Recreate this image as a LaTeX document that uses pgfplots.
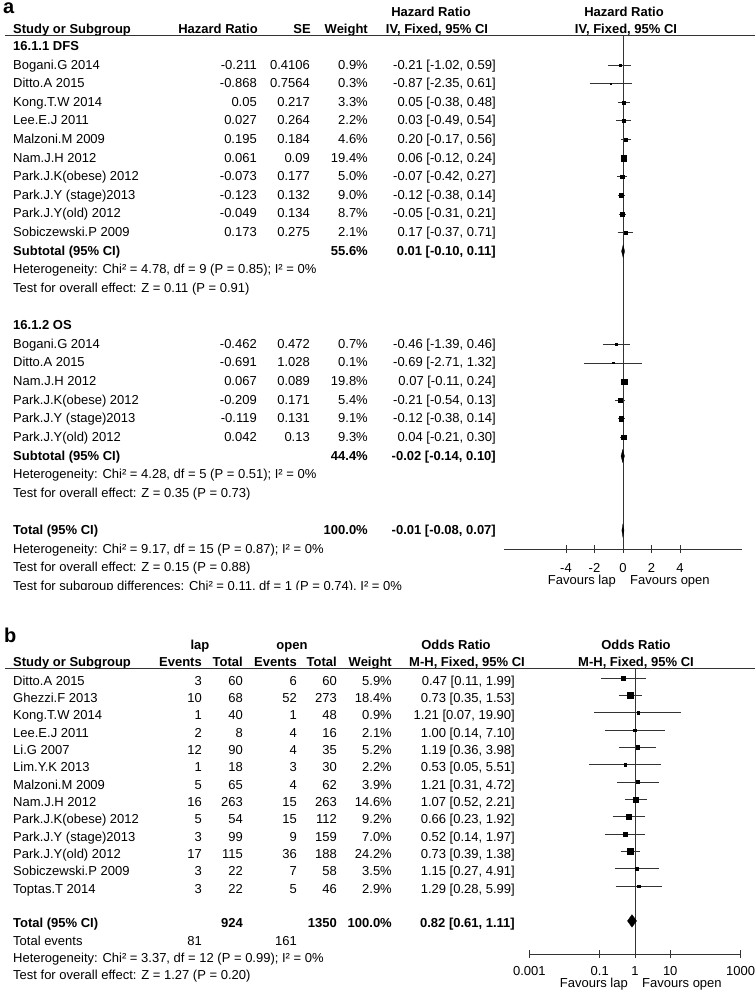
\documentclass[border=0pt]{standalone}
\usepackage{pgfplots}
\pgfplotsset{compat=1.18}
\usepackage{pgfplotstable}
\usepackage{fontspec}
\setmainfont{Liberation Sans}
\newcommand{\fs}{\fontsize{13}{15}\selectfont}

% ---------- panel a data (log hazard ratio scale) ----------
\pgfplotstableread{
r est lo hi w
1 -0.21 -1.02 0.59 0.9
2 -0.87 -2.35 0.61 0.3
3 0.05 -0.38 0.48 3.3
4 0.03 -0.49 0.54 2.2
5 0.20 -0.17 0.56 4.6
6 0.06 -0.12 0.24 19.4
7 -0.07 -0.42 0.27 5.0
8 -0.12 -0.38 0.14 9.0
9 -0.05 -0.31 0.21 8.7
10 0.17 -0.37 0.71 2.1
16 -0.46 -1.39 0.46 0.7
17 -0.69 -2.71 1.32 0.1
18 0.07 -0.11 0.24 19.8
19 -0.21 -0.54 0.13 5.4
20 -0.12 -0.38 0.14 9.1
21 0.04 -0.21 0.30 9.3
}\tabA
\pgfplotstableread{
x y
-1.02 1
0.59 1
nan nan
-2.35 2
0.61 2
nan nan
-0.38 3
0.48 3
nan nan
-0.49 4
0.54 4
nan nan
-0.17 5
0.56 5
nan nan
-0.12 6
0.24 6
nan nan
-0.42 7
0.27 7
nan nan
-0.38 8
0.14 8
nan nan
-0.31 9
0.21 9
nan nan
-0.37 10
0.71 10
nan nan
-1.39 16
0.46 16
nan nan
-2.71 17
1.32 17
nan nan
-0.11 18
0.24 18
nan nan
-0.54 19
0.13 19
nan nan
-0.38 20
0.14 20
nan nan
-0.21 21
0.30 21
}\segA

% ---------- panel b data (odds ratio) ----------
\pgfplotstableread{
r est w
0 0.47 5.9
1 0.73 18.4
2 1.21 0.9
3 1.00 2.1
4 1.19 5.2
5 0.53 2.2
6 1.21 3.9
7 1.07 14.6
8 0.66 9.2
9 0.52 7.0
10 0.73 24.2
11 1.15 3.5
12 1.29 2.9
}\tabB
\pgfplotstableread{
x y
0.11 0
1.99 0
nan nan
0.35 1
1.53 1
nan nan
0.07 2
19.90 2
nan nan
0.14 3
7.10 3
nan nan
0.36 4
3.98 4
nan nan
0.05 5
5.51 5
nan nan
0.31 6
4.72 6
nan nan
0.52 7
2.21 7
nan nan
0.23 8
1.92 8
nan nan
0.14 9
1.97 9
nan nan
0.39 10
1.38 10
nan nan
0.27 11
4.91 11
nan nan
0.28 12
5.99 12
}\segB

\newcommand{\TA}[4]{\node[anchor=#1] at (#2,{50.4+18.62*#3}) {#4};}
\newcommand{\TB}[4]{\node[anchor=#1] at (#2,{685+17.35*#3}) {#4};}
\newcommand{\SA}[6]{\TA{base west}{13}{#1}{#2}\TA{base east}{257}{#1}{#3}\TA{base east}{310}{#1}{#4}\TA{base east}{368}{#1}{#5}\TA{base east}{496}{#1}{#6}}
\newcommand{\SB}[8]{\TB{base west}{13}{#1}{#2}\TB{base east}{202}{#1}{#3}\TB{base east}{243}{#1}{#4}\TB{base east}{297}{#1}{#5}\TB{base east}{337}{#1}{#6}\TB{base east}{392}{#1}{#7}\TB{base east}{515}{#1}{#8}}

\pgfplotsset{forest/.style={
  scale only axis, axis x line*=bottom, axis y line=none, clip=false,
  y dir=reverse, enlargelimits=false,
  tick align=center, major tick length=8pt,
  x axis line style={line width=0.9pt, black!80},
  every tick/.style={line width=0.9pt, black!80},
  xticklabel style={font=\fs, inner sep=0pt},
}}

\begin{document}
\begin{tikzpicture}
\path[use as bounding box] (0,0) rectangle (755pt,-992pt);
\tikzset{every node/.style={inner sep=0pt, font=\fs, text=black}}

% ================= PANEL A =================
\begin{axis}[forest, at={(504pt,-549pt)}, anchor=south west,
  width=238pt, height=513.5pt,
  xmin=-8.35, xmax=8.35, ymin=-0.585, ymax=26.993,
  xtick={-4,-2,0,2,4}, xticklabels={-4,-2,0,2,4},
  xticklabel style={yshift=-10pt}]
\addplot[black!80, line width=0.9pt] coordinates {(0,-0.585) (0,26.993)};
\addplot[black!80, line width=0.8pt, unbounded coords=jump] table[x=x,y=y]{\segA};
\addplot[scatter, only marks, mark=square*,
  scatter/use mapped color={draw=black,fill=black},
  visualization depends on={0.5*sqrt(\thisrow{w})+0.6 \as \ms},
  scatter/@pre marker code/.append style={/tikz/mark size=\ms}]
  table[x=est,y=r]{\tabA};
\addplot[fill=black, draw=black, line width=0.3pt] coordinates {(-0.10,11) (0.01,10.66) (0.11,11) (0.01,11.34)} -- cycle;
\addplot[fill=black, draw=black, line width=0.3pt] coordinates {(-0.14,22) (-0.02,21.66) (0.10,22) (-0.02,22.34)} -- cycle;
\addplot[fill=black, draw=black, line width=0.3pt] coordinates {(-0.08,26) (-0.01,25.66) (0.07,26) (-0.01,26.34)} -- cycle;
\end{axis}

% ================= PANEL B =================
\begin{axis}[forest, at={(529.3pt,-954pt)}, anchor=south west,
  width=211.4pt, height=286pt, xmode=log, log basis x=10,
  xmin=0.001, xmax=1000, ymin=-0.576, ymax=15.908,
  xtick={0.001,0.1,1,10,1000}, xticklabels={0.001,0.1,1,10,1000},
  xminorticks=false, xticklabel style={yshift=-8pt}]
\addplot[black!80, line width=0.9pt] coordinates {(1,-0.576) (1,15.908)};
\addplot[black!80, line width=0.8pt, unbounded coords=jump] table[x=x,y=y]{\segB};
\addplot[scatter, only marks, mark=square*,
  scatter/use mapped color={draw=black,fill=black},
  visualization depends on={0.5*sqrt(\thisrow{w})+0.6 \as \ms},
  scatter/@pre marker code/.append style={/tikz/mark size=\ms}]
  table[x=est,y=r]{\tabB};
\addplot[fill=black, draw=black, line width=0.3pt] coordinates {(0.61,14) (0.82,13.64) (1.11,14) (0.82,14.36)} -- cycle;
\end{axis}

\begin{scope}[x=1pt,y=-1pt]
% ---- panel a text ----
\node[anchor=base west, font=\fontsize{20}{20}\selectfont\bfseries] at (3,14) {a};
\node[anchor=base, font=\fs\bfseries] at (431,17) {Hazard Ratio};
\node[anchor=base, font=\fs\bfseries] at (624,17) {Hazard Ratio};
\node[anchor=base west, font=\fs\bfseries] at (13,34) {Study or Subgroup};
\node[anchor=base east, font=\fs\bfseries] at (258,34) {Hazard Ratio};
\node[anchor=base east, font=\fs\bfseries] at (311,34) {SE};
\node[anchor=base east, font=\fs\bfseries] at (368,34) {Weight};
\node[anchor=base, font=\fs\bfseries] at (437,34) {IV, Fixed, 95\% CI};
\node[anchor=base, font=\fs\bfseries] at (626,34) {IV, Fixed, 95\% CI};
\draw[black!80, line width=0.9pt] (5,35.5) -- (755,35.5);

\TA{base west}{13}{0}{\bfseries 16.1.1 DFS}
\SA{1}{Bogani.G 2014}{-0.211}{0.4106}{0.9\%}{-0.21 [-1.02, 0.59]}
\SA{2}{Ditto.A 2015}{-0.868}{0.7564}{0.3\%}{-0.87 [-2.35, 0.61]}
\SA{3}{Kong.T.W 2014}{0.05}{0.217}{3.3\%}{0.05 [-0.38, 0.48]}
\SA{4}{Lee.E.J 2011}{0.027}{0.264}{2.2\%}{0.03 [-0.49, 0.54]}
\SA{5}{Malzoni.M 2009}{0.195}{0.184}{4.6\%}{0.20 [-0.17, 0.56]}
\SA{6}{Nam.J.H 2012}{0.061}{0.09}{19.4\%}{0.06 [-0.12, 0.24]}
\SA{7}{Park.J.K(obese) 2012}{-0.073}{0.177}{5.0\%}{-0.07 [-0.42, 0.27]}
\SA{8}{Park.J.Y (stage)2013}{-0.123}{0.132}{9.0\%}{-0.12 [-0.38, 0.14]}
\SA{9}{Park.J.Y(old) 2012}{-0.049}{0.134}{8.7\%}{-0.05 [-0.31, 0.21]}
\SA{10}{Sobiczewski.P 2009}{0.173}{0.275}{2.1\%}{0.17 [-0.37, 0.71]}
\TA{base west}{13}{11}{\bfseries Subtotal (95\% CI)}
\TA{base east}{368}{11}{\bfseries 55.6\%}
\TA{base east}{496}{11}{\bfseries 0.01 [-0.10, 0.11]}
\TA{base west}{13}{12}{Heterogeneity: Chi² = 4.78, df = 9 (P = 0.85); I² = 0\%}
\TA{base west}{13}{13}{Test for overall effect: Z = 0.11 (P = 0.91)}
\TA{base west}{13}{15}{\bfseries 16.1.2 OS}
\SA{16}{Bogani.G 2014}{-0.462}{0.472}{0.7\%}{-0.46 [-1.39, 0.46]}
\SA{17}{Ditto.A 2015}{-0.691}{1.028}{0.1\%}{-0.69 [-2.71, 1.32]}
\SA{18}{Nam.J.H 2012}{0.067}{0.089}{19.8\%}{0.07 [-0.11, 0.24]}
\SA{19}{Park.J.K(obese) 2012}{-0.209}{0.171}{5.4\%}{-0.21 [-0.54, 0.13]}
\SA{20}{Park.J.Y (stage)2013}{-0.119}{0.131}{9.1\%}{-0.12 [-0.38, 0.14]}
\SA{21}{Park.J.Y(old) 2012}{0.042}{0.13}{9.3\%}{0.04 [-0.21, 0.30]}
\TA{base west}{13}{22}{\bfseries Subtotal (95\% CI)}
\TA{base east}{368}{22}{\bfseries 44.4\%}
\TA{base east}{496}{22}{\bfseries -0.02 [-0.14, 0.10]}
\TA{base west}{13}{23}{Heterogeneity: Chi² = 4.28, df = 5 (P = 0.51); I² = 0\%}
\TA{base west}{13}{24}{Test for overall effect: Z = 0.35 (P = 0.73)}
\TA{base west}{13}{26}{\bfseries Total (95\% CI)}
\TA{base east}{368}{26}{\bfseries 100.0\%}
\TA{base east}{496}{26}{\bfseries -0.01 [-0.08, 0.07]}
\TA{base west}{13}{27}{Heterogeneity: Chi² = 9.17, df = 15 (P = 0.87); I² = 0\%}
\TA{base west}{13}{28}{Test for overall effect: Z = 0.15 (P = 0.88)}
\begin{scope}
\clip (0,0) rectangle (755,589);
\TA{base west}{13}{29}{Test for subgroup differences: Chi² = 0.11, df = 1 (P = 0.74), I² = 0\%}
\end{scope}
\node[anchor=base east] at (616,584.6) {Favours lap};
\node[anchor=base west] at (630,584.6) {Favours open};

% ---- panel b text ----
\node[anchor=base west, font=\fontsize{20}{20}\selectfont\bfseries] at (4,642) {b};
\node[anchor=base, font=\fs\bfseries] at (200,649.5) {lap};
\node[anchor=base, font=\fs\bfseries] at (292,649.5) {open};
\node[anchor=base, font=\fs\bfseries] at (456,649.5) {Odds Ratio};
\node[anchor=base, font=\fs\bfseries] at (636,649.5) {Odds Ratio};
\node[anchor=base west, font=\fs\bfseries] at (13,666.5) {Study or Subgroup};
\node[anchor=base east, font=\fs\bfseries] at (202,666.5) {Events};
\node[anchor=base east, font=\fs\bfseries] at (243,666.5) {Total};
\node[anchor=base east, font=\fs\bfseries] at (297,666.5) {Events};
\node[anchor=base east, font=\fs\bfseries] at (337,666.5) {Total};
\node[anchor=base east, font=\fs\bfseries] at (392,666.5) {Weight};
\node[anchor=base, font=\fs\bfseries] at (467,666.5) {M-H, Fixed, 95\% CI};
\node[anchor=base, font=\fs\bfseries] at (636,666.5) {M-H, Fixed, 95\% CI};
\draw[black!80, line width=0.9pt] (5,668) -- (755,668);

\SB{0}{Ditto.A 2015}{3}{60}{6}{60}{5.9\%}{0.47 [0.11, 1.99]}
\SB{1}{Ghezzi.F 2013}{10}{68}{52}{273}{18.4\%}{0.73 [0.35, 1.53]}
\SB{2}{Kong.T.W 2014}{1}{40}{1}{48}{0.9\%}{1.21 [0.07, 19.90]}
\SB{3}{Lee.E.J 2011}{2}{8}{4}{16}{2.1\%}{1.00 [0.14, 7.10]}
\SB{4}{Li.G 2007}{12}{90}{4}{35}{5.2\%}{1.19 [0.36, 3.98]}
\SB{5}{Lim.Y.K 2013}{1}{18}{3}{30}{2.2\%}{0.53 [0.05, 5.51]}
\SB{6}{Malzoni.M 2009}{5}{65}{4}{62}{3.9\%}{1.21 [0.31, 4.72]}
\SB{7}{Nam.J.H 2012}{16}{263}{15}{263}{14.6\%}{1.07 [0.52, 2.21]}
\SB{8}{Park.J.K(obese) 2012}{5}{54}{15}{112}{9.2\%}{0.66 [0.23, 1.92]}
\SB{9}{Park.J.Y (stage)2013}{3}{99}{9}{159}{7.0\%}{0.52 [0.14, 1.97]}
\SB{10}{Park.J.Y(old) 2012}{17}{115}{36}{188}{24.2\%}{0.73 [0.39, 1.38]}
\SB{11}{Sobiczewski.P 2009}{3}{22}{7}{58}{3.5\%}{1.15 [0.27, 4.91]}
\SB{12}{Toptas.T 2014}{3}{22}{5}{46}{2.9\%}{1.29 [0.28, 5.99]}
\TB{base west}{13}{14}{\bfseries Total (95\% CI)}
\TB{base east}{243}{14}{\bfseries 924}
\TB{base east}{337}{14}{\bfseries 1350}
\TB{base east}{392}{14}{\bfseries 100.0\%}
\TB{base east}{515}{14}{\bfseries 0.82 [0.61, 1.11]}
\TB{base west}{13}{15}{Total events}
\TB{base east}{202}{15}{81}
\TB{base east}{297}{15}{161}
\TB{base west}{13}{16}{Heterogeneity: Chi² = 3.37, df = 12 (P = 0.99); I² = 0\%}
\TB{base west}{13}{17}{Test for overall effect: Z = 1.27 (P = 0.20)}
\node[anchor=base east] at (628,987) {Favours lap};
\node[anchor=base west] at (642,987) {Favours open};
\end{scope}
\end{tikzpicture}
\end{document}
